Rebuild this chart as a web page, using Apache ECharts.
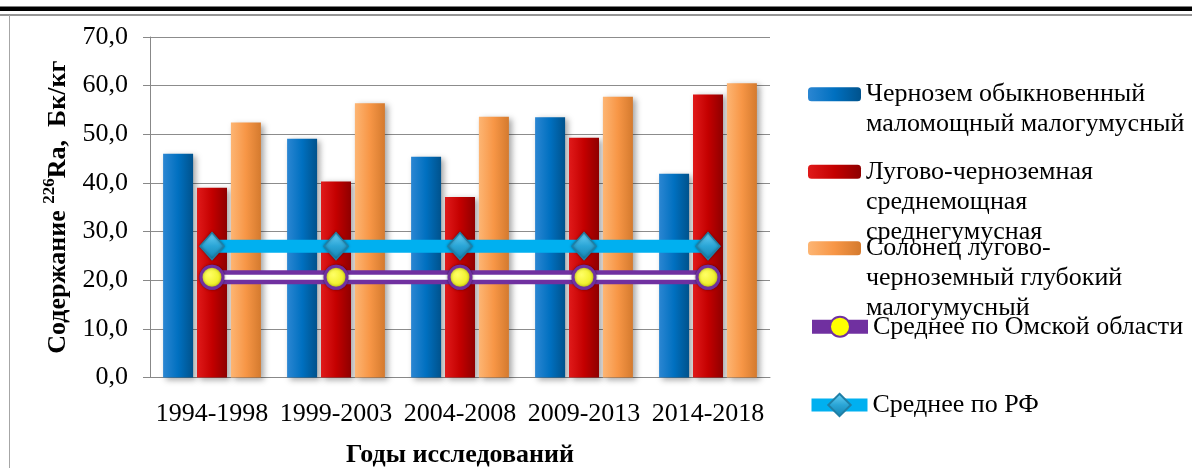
<!DOCTYPE html>
<html><head><meta charset="utf-8">
<script src="https://cdn.jsdelivr.net/npm/echarts@6/dist/echarts.min.js"></script>
<style>
html,body{margin:0;padding:0;background:#fff;overflow:hidden}
#wrap{position:relative;width:1192px;height:468px}
#c{width:1192px;height:468px}
.fr{position:absolute;pointer-events:none}
</style>
</head><body><div id="wrap"><div id="c"></div>
<div class="fr" style="left:0;top:6px;width:1192px;height:1px;background:#7f7f7f"></div>
<div class="fr" style="left:0;top:7px;width:1192px;height:4px;background:#000"></div>
<div class="fr" style="left:0;top:14px;width:1192px;height:2px;background:#959595"></div>
<div class="fr" style="left:9px;top:15px;width:1px;height:453px;background:#a6a6a6"></div>
</div>
<script>
// ---- data ----
const categories = ['1994-1998', '1999-2003', '2004-2008', '2009-2013', '2014-2018'];
const chernozem = [46.0, 49.1, 45.4, 53.5, 41.9];
const lugovo = [39.0, 40.3, 37.1, 49.3, 58.2];
const solonets = [52.4, 56.4, 53.6, 57.7, 60.5];
const omskAvg = [20.6, 20.6, 20.6, 20.6, 20.6];
const rfAvg = [27.0, 27.0, 27.0, 27.0, 27.0];
const yMin = 0, yMax = 70, yStep = 10;
const seriesNames = [
  'Чернозем обыкновенный маломощный малогумусный',
  'Лугово-черноземная среднемощная среднегумусная',
  'Солонец лугово-черноземный глубокий малогумусный',
  'Среднее по Омской области',
  'Среднее по РФ'
];
const legendLabels = [
  'Чернозем обыкновенный\nмаломощный малогумусный',
  'Лугово-черноземная\nсреднемощная\nсреднегумусная',
  'Солонец лугово-\nчерноземный глубокий\nмалогумусный',
  'Среднее по Омской области',
  'Среднее по РФ'
];
const xTitle = 'Годы исследований';

// ---- styling ----
const F = 'Liberation Serif';
const FS = 26;
const LH = 30;
function hGrad(a, b, c) {
  return new echarts.graphic.LinearGradient(0, 0, 1, 0, [
    {offset: 0, color: a}, {offset: 0.5, color: b}, {offset: 1, color: c}
  ]);
}
const barShadow = {shadowBlur: 6, shadowColor: 'rgba(0,0,0,0.35)', shadowOffsetX: 3, shadowOffsetY: 2};

// legend text is vertically centred on its icon; blank lines before the text
// put the first text line level with the icon, as in the reference
function mkLegend(idx, iconCenter, left, itemW, itemH, extra) {
  const lines = legendLabels[idx].split('\n');
  const n = lines.length;
  const pad = [];
  for (let i = 0; i < n - 1; i++) pad.push('\u00a0');
  const txt = pad.concat(lines).join('\n');
  const total = (2 * n - 1) * LH;
  return Object.assign({
    data: [seriesNames[idx]],
    top: iconCenter - Math.max(total, itemH) / 2, left: left, padding: 0,
    itemWidth: itemW, itemHeight: itemH,
    selectedMode: false,
    formatter: () => txt,
    textStyle: {fontFamily: F, fontSize: FS, lineHeight: LH, color: '#000'}
  }, extra || {});
}

const chart = echarts.init(document.getElementById('c'));
chart.setOption({
  animation: false,
  backgroundColor: '#fff',
  grid: {left: 150, right: 422, top: 37, bottom: 90.5, outerBoundsMode: 'none', containLabel: false},
  legend: [
    mkLegend(0, 94.3, 808, 53, 14, {itemStyle: {color: hGrad('#2b86d2', '#0070c0', '#00528c')}}),
    mkLegend(1, 171.7, 808, 53, 14, {itemStyle: {color: hGrad('#e01a1a', '#c40000', '#8e0000')}}),
    mkLegend(2, 248.3, 808, 53, 14, {itemStyle: {color: hGrad('#fdb573', '#f79646', '#d47a2e')}}),
    mkLegend(3, 326.7, 805, 56, 25, {lineStyle: {width: 14, color: '#7030a0'}}),
    mkLegend(4, 405, 805, 56, 28, {lineStyle: {width: 13, color: '#00b0f0'}})
  ],
  xAxis: {
    type: 'category',
    data: categories,
    axisLine: {lineStyle: {color: '#888', width: 1}},
    axisTick: {show: false},
    axisLabel: {fontFamily: F, fontSize: FS, color: '#000', margin: 24, interval: 0},
    name: xTitle,
    nameLocation: 'middle',
    nameGap: 65,
    nameTextStyle: {fontFamily: F, fontSize: FS, fontWeight: 'bold', color: '#000'}
  },
  yAxis: {
    type: 'value',
    min: yMin, max: yMax, interval: yStep,
    axisLine: {show: true, lineStyle: {color: '#888', width: 1}},
    axisTick: {show: true, length: 7, lineStyle: {color: '#888'}},
    splitLine: {lineStyle: {color: '#8c8c8c', width: 1}},
    axisLabel: {fontFamily: F, fontSize: FS, color: '#000', margin: 22,
      formatter: v => v.toFixed(1).replace('.', ',')},
    name: '{b|Содержание }{s|226}{b|Ra,  Бк/кг}',
    nameLocation: 'middle',
    nameRotate: 90,
    nameGap: 74,
    nameTextStyle: {
      rich: {
        b: {fontFamily: F, fontSize: FS, fontWeight: 'bold', color: '#000'},
        s: {fontFamily: F, fontSize: 17, fontWeight: 'bold', color: '#000', verticalAlign: 'bottom', padding: [0, 0, 18, 0]}
      }
    }
  },
  series: [
    {name: seriesNames[0], type: 'bar', data: chernozem, barWidth: 30, barGap: '13%',
      itemStyle: Object.assign({color: hGrad('#2b86d2', '#0070c0', '#00528c')}, barShadow)},
    {name: seriesNames[1], type: 'bar', data: lugovo, barWidth: 30, barGap: '13%',
      itemStyle: Object.assign({color: hGrad('#e01a1a', '#c40000', '#8e0000')}, barShadow)},
    {name: seriesNames[2], type: 'bar', data: solonets, barWidth: 30, barGap: '13%',
      itemStyle: Object.assign({color: hGrad('#fdb573', '#f79646', '#d47a2e')}, barShadow)},
    {name: seriesNames[3], type: 'line', data: omskAvg, z: 3,
      lineStyle: {color: '#7030a0', width: 14},
      symbol: 'circle', symbolSize: 22,
      itemStyle: {color: '#ffff00', borderColor: '#7030a0', borderWidth: 3}},
    {name: 'omsk-inner', type: 'line', data: omskAvg, z: 4, silent: true,
      lineStyle: {color: '#ffffff', width: 5}, symbol: 'none'},
    {name: 'omsk-markers', type: 'line', data: omskAvg, z: 5, silent: true,
      lineStyle: {opacity: 0, width: 0},
      symbol: 'circle', symbolSize: 22,
      itemStyle: {
        color: new echarts.graphic.RadialGradient(0.4, 0.4, 0.7, [
          {offset: 0, color: '#ffff66'}, {offset: 1, color: '#e6e600'}]),
        borderColor: '#7030a0', borderWidth: 3,
        shadowBlur: 3, shadowColor: 'rgba(0,0,0,0.4)'}},
    {name: seriesNames[4], type: 'line', data: rfAvg, z: 3,
      lineStyle: {color: '#00b0f0', width: 13},
      symbol: 'diamond', symbolSize: [24, 27],
      itemStyle: {
        color: new echarts.graphic.LinearGradient(0, 0, 0, 1, [
          {offset: 0, color: '#6fd3f7'}, {offset: 0.5, color: '#2aa5d6'}, {offset: 1, color: '#1582b0'}]),
        borderColor: '#1f7fa6', borderWidth: 1.5,
        shadowBlur: 3, shadowColor: 'rgba(0,0,0,0.35)'}}
  ]
});
</script>
</body></html>
